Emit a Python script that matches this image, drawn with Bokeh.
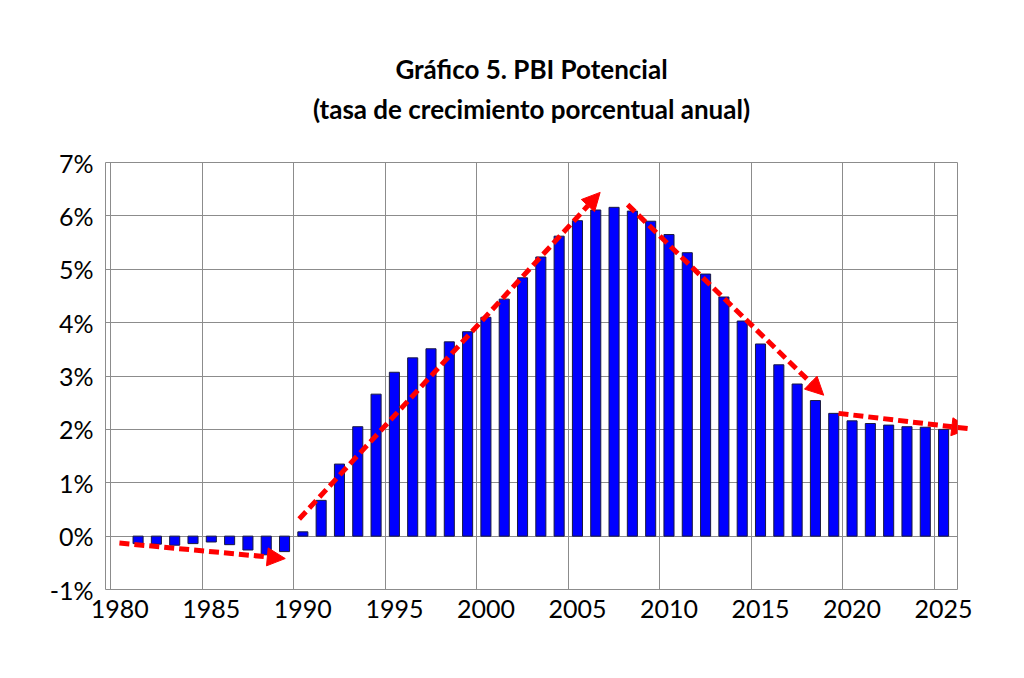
from bokeh.embed import file_html
from bokeh.models import (Arrow, ColumnDataSource, FixedTicker, NormalHead,
                          PrintfTickFormatter, Title)
from bokeh.plotting import figure
from bokeh.resources import INLINE

# Potential GDP growth, % per year
years = list(range(1981, 2026))
growth = [-0.14, -0.15, -0.17, -0.14, -0.11, -0.16, -0.26, -0.35, -0.29,
          0.08, 0.67, 1.35, 2.05, 2.66, 3.07, 3.34, 3.51, 3.64, 3.83,
          4.10, 4.44, 4.84, 5.23, 5.62, 5.91, 6.11, 6.16, 6.09, 5.90,
          5.65, 5.31, 4.91, 4.48, 4.03, 3.60, 3.21, 2.85, 2.54, 2.30,
          2.16, 2.11, 2.08, 2.05, 2.04, 2.00]

# Hand drawn trend arrows
trend_x_start = [1979.98, 1989.80, 2007.74, 2019.26]
trend_y_start = [-0.13, 0.32, 6.21, 2.30]
trend_x_end = [1989.04, 2006.24, 2018.45, 2026.43]
trend_y_end = [-0.42, 6.44, 2.64, 2.01]

x_ticks = list(range(1980, 2026, 5))
y_ticks = list(range(-1, 8))

title_line1 = "Gráfico 5. PBI Potencial"
title_line2 = "(tasa de crecimiento porcentual anual)"

FONT = "Lato"
GRID = "#8c8c8c"

p = figure(width=1008, height=662, x_range=(1979.22, 2025.76), y_range=(-1, 7),
           output_backend="svg", toolbar_location=None, tools="",
           min_border_left=105, min_border_right=51, min_border_top=162, min_border_bottom=73,
           outline_line_color=GRID, outline_line_width=1)
p.title_location = None

# titles stack outward from the frame: spacer first, then line 2, then line 1
p.add_layout(Title(text=" ", text_font=FONT, text_font_size="21px"), "above")
p.add_layout(Title(text=title_line2, align="center", text_font=FONT, text_font_size="26px",
                   text_font_style="bold", text_color="black", standoff=2), "above")
p.add_layout(Title(text=title_line1, align="center", text_font=FONT, text_font_size="26px",
                   text_font_style="bold", text_color="black"), "above")

src = ColumnDataSource(data=dict(year=years, growth=growth))
p.vbar(x="year", top="growth", bottom=0, width=0.55, source=src,
       fill_color="#0000ff", line_color="#1a1a40", line_width=1)

arrows = ColumnDataSource(data=dict(x0=trend_x_start, y0=trend_y_start,
                                    x1=trend_x_end, y1=trend_y_end))
p.add_layout(Arrow(x_start="x0", y_start="y0", x_end="x1", y_end="y1", source=arrows,
                   line_color="#ff0000", line_width=5, line_dash="10 5",
                   end=NormalHead(size=18, fill_color="#ff0000", line_color="#ff0000")))

# labels sit under the categories, grid lines run between them
p.xaxis.ticker = FixedTicker(ticks=x_ticks)
p.yaxis.ticker = FixedTicker(ticks=y_ticks)
p.yaxis.formatter = PrintfTickFormatter(format="%d%%")
for ax in (p.xaxis, p.yaxis):
    ax.axis_line_color = None
    ax.major_tick_line_color = None
    ax.minor_tick_line_color = None
    ax.major_tick_out = 0
    ax.major_tick_in = 0
    ax.major_label_text_font = FONT
    ax.major_label_text_font_size = "25px"
    ax.major_label_text_color = "black"
p.xaxis.major_label_standoff = 10
p.yaxis.major_label_standoff = 12

p.xgrid.ticker = FixedTicker(ticks=[t - 0.5 for t in x_ticks])
p.xgrid.grid_line_color = GRID
p.ygrid.grid_line_color = GRID

open("out.html", "w").write(file_html(p, INLINE))
